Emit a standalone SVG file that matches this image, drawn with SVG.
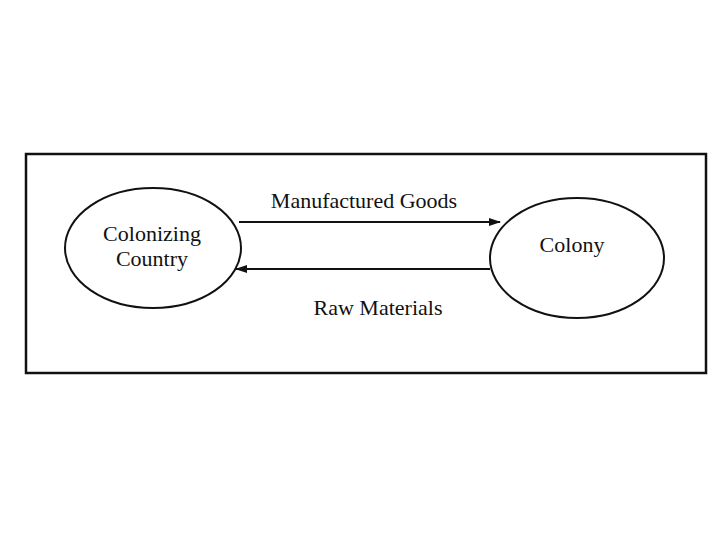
<svg xmlns="http://www.w3.org/2000/svg" width="720" height="540" viewBox="0 0 720 540">
<style>
.n{fill:#fff;stroke:#111;stroke-width:2}
.t{font-family:"Liberation Serif",serif;font-size:22px;fill:#111;text-anchor:middle}
.c{stroke:#111;stroke-width:2;fill:none}
</style>
<defs>
<marker id="ah" markerWidth="12" markerHeight="8" refX="11" refY="4" orient="auto" markerUnits="userSpaceOnUse">
<path d="M0,0 L12,4 L0,8 Z" fill="#111"/>
</marker>
</defs>
<rect x="0" y="0" width="720" height="540" fill="#fff"/>
<rect x="26" y="154" width="680" height="219" fill="none" stroke="#111" stroke-width="2.5"/>
<g id="colonizing">
<ellipse class="n" cx="153" cy="248" rx="88" ry="60"/>
<text class="t" x="152" y="241">Colonizing</text>
<text class="t" x="152" y="266">Country</text>
</g>
<g id="colony">
<ellipse class="n" cx="577" cy="258" rx="87" ry="60"/>
<text class="t" x="572" y="252">Colony</text>
</g>
<g id="connectors">
<line class="c" x1="239" y1="222" x2="500" y2="222" marker-end="url(#ah)"/>
<line class="c" x1="490" y1="269" x2="236" y2="269" marker-end="url(#ah)"/>
<text class="t" x="364" y="208">Manufactured Goods</text>
<text class="t" x="378" y="315">Raw Materials</text>
</g>
</svg>
